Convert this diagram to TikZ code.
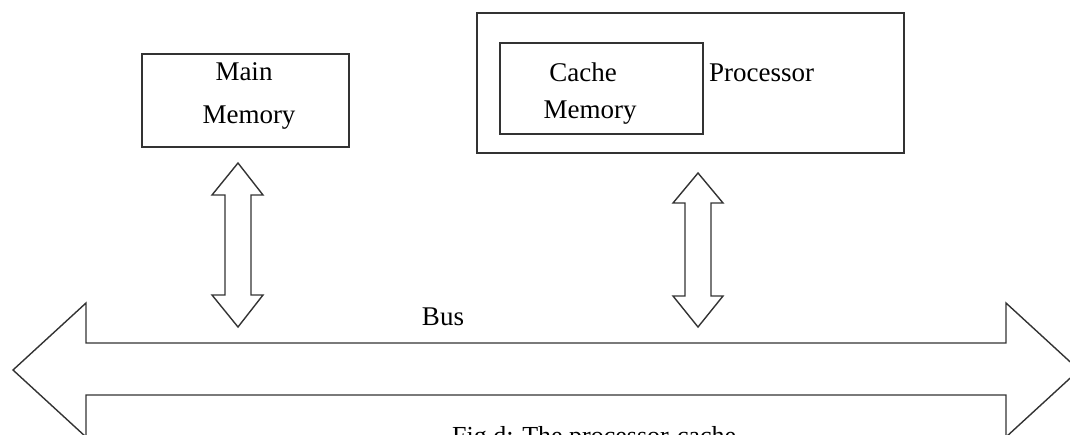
\documentclass[tikz,border=0pt]{standalone}
\usepackage{fontspec}
\setmainfont{Liberation Serif}
\begin{document}
\begin{tikzpicture}[x=1pt,y=-1pt,
  outline/.style={draw=black!80, line width=1.4pt, line join=miter},
  lbl/.style={font=\fontsize{27}{30}\selectfont, inner sep=0pt, anchor=base}]
\useasboundingbox (0,0) rectangle (1070,434);
\clip (0,0) rectangle (1070,434);
% boxes
\node[outline, minimum width=207pt, minimum height=93pt, inner sep=0pt] (mm) at (245.5,100.5) {};
\node[outline, minimum width=427pt, minimum height=140pt, inner sep=0pt] (proc) at (690.5,83) {};
\node[outline, minimum width=203pt, minimum height=91pt, inner sep=0pt] (cache) at (601.5,88.5) {};
% texts
\node[lbl] (tmain) at (244,80) {Main};
\node[lbl] (tmem) at (249,123) {Memory};
\node[lbl] (tcache) at (583,81) {Cache};
\node[lbl] (tcmem) at (590,118) {Memory};
\node[lbl, anchor=base west] (tproc) at (709,81) {Processor};
\node[lbl] (tbus) at (443,325) {Bus};
\node[lbl, anchor=base west, font=\fontsize{26}{30}\selectfont] (cap) at (452,444) {Fig d: The processor-cache};
% vertical arrow 1
\draw[outline, fill=white] (238,163) -- (263,195) -- (251,195) -- (251,295) -- (263,295) -- (238,327)
  -- (212,295) -- (225,295) -- (225,195) -- (212,195) -- cycle;
% vertical arrow 2
\draw[outline, fill=white] (698,173) -- (723,203) -- (711,203) -- (711,296) -- (723,296) -- (698,327)
  -- (673,296) -- (685,296) -- (685,203) -- (673,203) -- cycle;
% bus arrow
\draw[outline] (13,370) -- (86,303) -- (86,343) -- (1006,343) -- (1006,303) -- (1079,370)
  -- (1006,437) -- (1006,395) -- (86,395) -- (86,437) -- cycle;
\end{tikzpicture}
\end{document}
